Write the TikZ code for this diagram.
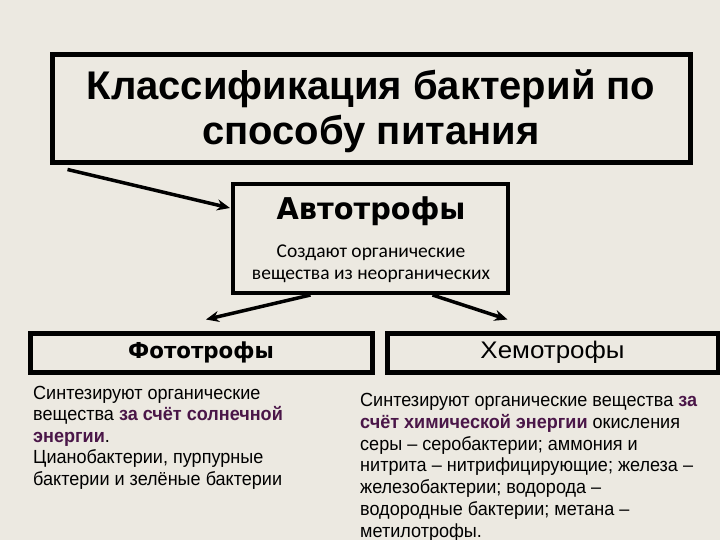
\documentclass[tikz,border=0pt]{standalone}
\usepackage{fontspec}
\setmainfont{Liberation Sans}
\newfontfamily\bodyfont{Liberation Sans}[FakeStretch=0.95]
\newfontfamily\titlefont{Liberation Sans}
\newfontfamily\tahoma{DejaVu Sans}
\newfontfamily\carlito{Carlito}
\usetikzlibrary{arrows.meta,calc}
\definecolor{bg}{HTML}{ECE9E1}
\definecolor{purp}{HTML}{4A1648}
\tikzset{
  box/.style={draw=black, fill=bg, inner sep=0pt},
  conn/.style={line width=3.5pt, -{Stealth[length=13pt,width=11pt]}},
  body/.style={anchor=north west, align=left, inner sep=0pt, font=\bodyfont\fontsize{19}{21.5}\selectfont}
}
\begin{document}
\begin{tikzpicture}[x=1pt,y=-1pt]
\fill[bg] (0,0) rectangle (720,540);
\useasboundingbox (0,0) rectangle (720,540);
\node[box, line width=5pt, minimum width=638pt, minimum height=108pt] (top) at (371,109) {};
\node[inner sep=0pt, align=center, anchor=north, font=\titlefont\fontsize{40}{45}\selectfont\bfseries] (title) at (371,70)
  {Классификация бактерий по\\способу питания};
\node[box, line width=4pt, minimum width=275pt, minimum height=109pt] (auto) at (370.5,238.5) {};
\node[inner sep=0pt, font=\fontsize{30}{31}\selectfont\tahoma\bfseries, anchor=base] (autot) at (371,220) {\scalebox{0.96}[1]{Автотрофы}};
\node[inner sep=0pt, align=center, font=\fontsize{19.5}{22}\selectfont\carlito, anchor=north] (autod) at (371,245) {Создают органические\\вещества из неорганических};
\node[box, line width=5pt, minimum width=342pt, minimum height=39pt,
  font=\fontsize{22}{23}\selectfont\tahoma\bfseries] (photo) at (201,352.5) {\scalebox{0.97}[1]{Фототрофы}};
\node[box, line width=5pt, minimum width=331pt, minimum height=39pt,
  font=\fontsize{24}{25}\selectfont] (chemo) at (552.5,352.5) {\scalebox{1.08}[1]{Хемотрофы}};
\node[body] (phtext) at (33,386) {Синтезируют органические\\вещества {\color{purp}\bfseries за счёт солнечной}\\{\color{purp}\bfseries энергии}.\\Цианобактерии, пурпурные\\бактерии и зелёные бактерии};
\node[body, font=\bodyfont\fontsize{19}{21.8}\selectfont] (chtext) at (360,393) {Синтезируют органические вещества {\color{purp}\bfseries за}\\{\color{purp}\bfseries счёт химической энергии} окисления\\серы – серобактерии; аммония и\\нитрита – нитрифицирующие; железа –\\железобактерии; водорода –\\водородные бактерии; метана –\\метилотрофы.};
\coordinate (s1) at ($(top.south west)+(18,4)$);
\coordinate (e1) at ($(auto.north west)+(-1,26)$);
\draw[conn] (s1) -- (e1);
\coordinate (s2) at ($(auto.south)+(-60,0)$);
\coordinate (e2) at ($(photo.north)+(5,-11)$);
\draw[conn] (s2) -- (e2);
\coordinate (s3) at ($(auto.south)+(62,0)$);
\coordinate (e3) at ($(chemo.north)+(-45,-11)$);
\draw[conn] (s3) -- (e3);
\end{tikzpicture}
\end{document}
